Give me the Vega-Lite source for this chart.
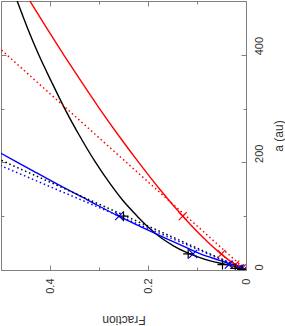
{
  "$schema": "https://vega.github.io/schema/vega-lite/v6.json",
  "width": 245,
  "height": 269,
  "autosize": {"type": "none"},
  "padding": {"left": 1, "top": 1, "right": 39, "bottom": 56},
  "config": {
    "view": {"stroke": "#808080", "strokeWidth": 1},
    "axis": {
      "domain": false, "grid": false, "tickColor": "#808080", "tickWidth": 1,
      "labelFont": "Liberation Sans", "labelFontSize": 11, "labelColor": "#333333",
      "titleFont": "Liberation Sans", "titleFontSize": 12, "titleFontWeight": "normal", "titleColor": "#333333",
      "labelFlush": false, "labelOverlap": false
    }
  },
  "datasets": {
    "solid": [
      {"series": "red", "a": 0, "F": 0}, {"series": "red", "a": 1, "F": 0.0038}, {"series": "red", "a": 3, "F": 0.009},
      {"series": "red", "a": 10, "F": 0.022}, {"series": "red", "a": 30, "F": 0.051}, {"series": "red", "a": 60, "F": 0.087},
      {"series": "red", "a": 100, "F": 0.129}, {"series": "red", "a": 150, "F": 0.176}, {"series": "red", "a": 200, "F": 0.219},
      {"series": "red", "a": 250, "F": 0.26}, {"series": "red", "a": 300, "F": 0.299}, {"series": "red", "a": 350, "F": 0.336},
      {"series": "red", "a": 400, "F": 0.372}, {"series": "red", "a": 450, "F": 0.407}, {"series": "red", "a": 500, "F": 0.441},
      {"series": "black", "a": 0, "F": 0}, {"series": "black", "a": 3, "F": 0.011}, {"series": "black", "a": 6, "F": 0.022},
      {"series": "black", "a": 10, "F": 0.04}, {"series": "black", "a": 17, "F": 0.073}, {"series": "black", "a": 25, "F": 0.1},
      {"series": "black", "a": 34, "F": 0.125}, {"series": "black", "a": 45, "F": 0.148}, {"series": "black", "a": 59, "F": 0.172},
      {"series": "black", "a": 80, "F": 0.2}, {"series": "black", "a": 100, "F": 0.222}, {"series": "black", "a": 130, "F": 0.252},
      {"series": "black", "a": 160, "F": 0.277}, {"series": "black", "a": 200, "F": 0.307}, {"series": "black", "a": 250, "F": 0.34},
      {"series": "black", "a": 300, "F": 0.37}, {"series": "black", "a": 350, "F": 0.397}, {"series": "black", "a": 400, "F": 0.423},
      {"series": "black", "a": 450, "F": 0.446}, {"series": "black", "a": 500, "F": 0.467},
      {"series": "blue", "a": 0, "F": 0}, {"series": "blue", "a": 3, "F": 0.008}, {"series": "blue", "a": 6, "F": 0.016},
      {"series": "blue", "a": 10, "F": 0.028}, {"series": "blue", "a": 18, "F": 0.054}, {"series": "blue", "a": 30, "F": 0.093},
      {"series": "blue", "a": 40, "F": 0.118}, {"series": "blue", "a": 60, "F": 0.167}, {"series": "blue", "a": 80, "F": 0.214},
      {"series": "blue", "a": 100, "F": 0.26}, {"series": "blue", "a": 130, "F": 0.323}, {"series": "blue", "a": 160, "F": 0.386},
      {"series": "blue", "a": 190, "F": 0.446}, {"series": "blue", "a": 217, "F": 0.5}, {"series": "blue", "a": 235, "F": 0.536}
    ],
    "dotted": [
      {"series": "red", "a": 0, "F": 0}, {"series": "red", "a": 430, "F": 0.525},
      {"series": "black", "a": 0, "F": 0}, {"series": "black", "a": 220, "F": 0.539},
      {"series": "blue", "a": 0, "F": 0}, {"series": "blue", "a": 210, "F": 0.542}
    ],
    "markers": [
      {"series": "red", "a": 1, "F": 0.003}, {"series": "red", "a": 3, "F": 0.008}, {"series": "red", "a": 10, "F": 0.022},
      {"series": "red", "a": 30, "F": 0.05}, {"series": "red", "a": 100, "F": 0.129},
      {"series": "blue", "a": 1, "F": 0.004}, {"series": "blue", "a": 3, "F": 0.012}, {"series": "blue", "a": 10, "F": 0.035},
      {"series": "blue", "a": 30, "F": 0.108}, {"series": "blue", "a": 100, "F": 0.259},
      {"series": "black", "a": 1, "F": 0.008}, {"series": "black", "a": 3, "F": 0.022}, {"series": "black", "a": 10, "F": 0.048},
      {"series": "black", "a": 30, "F": 0.118}, {"series": "black", "a": 100, "F": 0.25}
    ]
  },
  "layer": [
    {
      "data": {"name": "solid"},
      "mark": {"type": "line", "clip": true, "strokeWidth": 1.4, "interpolate": "monotone"},
      "encoding": {
        "x": {"field": "F", "type": "quantitative",
              "scale": {"domain": [0, 0.5], "reverse": true, "nice": false, "zero": false},
              "axis": {"orient": "bottom", "values": [0, 0.2, 0.4], "format": "~g", "tickSize": -5,
                       "labelAngle": 270, "labelPadding": 13, "title": "Fraction",
                       "titleAngle": 180, "titleBaseline": "middle", "titleY": 49}},
        "y": {"field": "a", "type": "quantitative",
              "scale": {"domain": [0, 500], "nice": false},
              "axis": {"orient": "right", "values": [0, 200, 400], "format": "d", "tickSize": -5,
                       "labelAngle": 270, "labelAlign": "left", "labelBaseline": "middle", "labelPadding": 18,
                       "title": "a (au)", "titleAngle": 270, "titleBaseline": "middle", "titleX": 32}},
        "color": {"field": "series", "type": "nominal",
                  "scale": {"domain": ["red", "black", "blue"], "range": ["#ff0000", "#000000", "#0000ff"]},
                  "legend": null}
      }
    },
    {
      "data": {"name": "dotted"},
      "mark": {"type": "line", "clip": true, "strokeWidth": 1.5, "strokeDash": [1.5, 2.8]},
      "encoding": {
        "x": {"field": "F", "type": "quantitative",
              "axis": {"orient": "top", "values": [0, 0.2, 0.4], "tickSize": -5, "labels": false, "title": null}},
        "y": {"field": "a", "type": "quantitative",
              "axis": {"orient": "left", "values": [0, 200, 400], "tickSize": -5, "labels": false, "title": null}},
        "color": {"field": "series", "type": "nominal", "legend": null}
      }
    },
    {
      "data": {"name": "markers"},
      "transform": [{"filter": {"field": "series", "oneOf": ["red", "blue"]}}],
      "mark": {"type": "point", "filled": false, "strokeWidth": 1.2, "size": 64, "opacity": 1,
               "shape": "M-1,-1L1,1M-1,1L1,-1", "clip": true},
      "encoding": {
        "x": {"field": "F", "type": "quantitative",
              "axis": {"orient": "bottom", "values": [0.1, 0.3], "tickSize": -3, "labels": false, "title": null}},
        "y": {"field": "a", "type": "quantitative",
              "axis": {"orient": "right", "values": [100, 300], "tickSize": -3, "labels": false, "title": null}},
        "color": {"field": "series", "type": "nominal", "legend": null}
      }
    },
    {
      "data": {"name": "markers"},
      "transform": [{"filter": {"field": "series", "equal": "black"}}],
      "mark": {"type": "point", "filled": false, "strokeWidth": 1.2, "size": 100, "opacity": 1,
               "shape": "M-1,0L1,0M0,-1L0,1", "clip": true},
      "encoding": {
        "x": {"field": "F", "type": "quantitative",
              "axis": {"orient": "top", "values": [0.1, 0.3], "tickSize": -3, "labels": false, "title": null}},
        "y": {"field": "a", "type": "quantitative",
              "axis": {"orient": "left", "values": [100, 300], "tickSize": -3, "labels": false, "title": null}},
        "color": {"field": "series", "type": "nominal", "legend": null}
      }
    }
  ],
  "resolve": {"axis": {"x": "independent", "y": "independent"}}
}
